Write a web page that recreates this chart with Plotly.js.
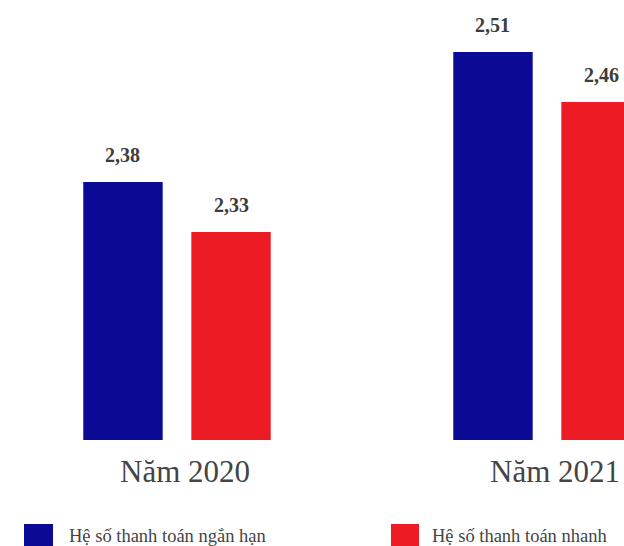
<!DOCTYPE html>
<html>
<head>
<meta charset="utf-8">
<script src="https://cdn.plot.ly/plotly-3.0.1.min.js"></script>
<style>html,body{margin:0;padding:0;background:#fff;}#chart{width:624px;height:546px;}</style>
</head>
<body>
<div id="chart"></div>
<script>
// Data
const categories = ['Năm 2020', 'Năm 2021'];
const seriesNames = ['Hệ số thanh toán ngắn hạn', 'Hệ số thanh toán nhanh'];
const shortTerm = [2.38, 2.51];
const quick = [2.33, 2.46];
const valueLabels = [['2,38', '2,51'], ['2,33', '2,46']];

// Styles
const FONT = '"Liberation Serif", "Times New Roman", serif';
const colors = ['#0b0a94', '#ed1c24'];
const bargap = 0.416, bargroupgap = 0.265;
const slot = (1 - bargap) / 2;

const series = [shortTerm, quick];
const traces = series.map((vals, s) => ({
  type: 'bar',
  x: categories,
  y: vals,
  name: seriesNames[s],
  marker: {color: colors[s], line: {width: 0}},
  hoverinfo: 'none',
  showlegend: false
}));

const annotations = [];
series.forEach((vals, s) => {
  vals.forEach((v, i) => {
    annotations.push({
      x: i + (s === 0 ? -slot / 2 : slot / 2), y: v, xref: 'x', yref: 'y',
      text: '<b>' + valueLabels[s][i] + '</b>', showarrow: false,
      yanchor: 'middle', yshift: 27,
      font: {family: FONT, size: 20, color: '#3d3d3d'}
    });
  });
});
categories.forEach((c, i) => {
  annotations.push({
    x: i, y: 0, xref: 'x', yref: 'paper', text: c, showarrow: false,
    yanchor: 'middle', yshift: -31, xshift: 8,
    font: {family: FONT, size: 31, color: '#444444'}
  });
});

// Manual legend
const W = 624, PH = 440;
const legendX = [[24, 53, 67], [391, 419, 430]];
const shapes = [];
seriesNames.forEach((n, s) => {
  const lx = legendX[s];
  shapes.push({
    type: 'rect', xref: 'paper', yref: 'paper',
    x0: lx[0] / W, x1: lx[1] / W, y0: (PH - 524) / PH, y1: (PH - 553) / PH,
    fillcolor: colors[s], line: {width: 0}
  });
  annotations.push({
    x: lx[2] / W, y: (PH - 536) / PH, xref: 'paper', yref: 'paper',
    text: n, showarrow: false, xanchor: 'left', yanchor: 'middle',
    font: {family: FONT, size: 18.5, color: '#444444'}
  });
});

const layout = {
  width: 624, height: 546,
  margin: {l: 0, r: 0, t: 0, b: 106, pad: 0},
  paper_bgcolor: '#ffffff', plot_bgcolor: '#ffffff',
  font: {family: FONT},
  barmode: 'group', bargap: bargap, bargroupgap: bargroupgap,
  xaxis: {type: 'category', range: [-0.4784, 1.2081], showticklabels: false, showgrid: false, zeroline: false, showline: false, ticks: ''},
  yaxis: {range: [2.122, 2.562], visible: false, showgrid: false, zeroline: false},
  showlegend: false,
  annotations: annotations,
  shapes: shapes
};

Plotly.newPlot('chart', traces, layout, {displayModeBar: false, staticPlot: true});
</script>
</body>
</html>
